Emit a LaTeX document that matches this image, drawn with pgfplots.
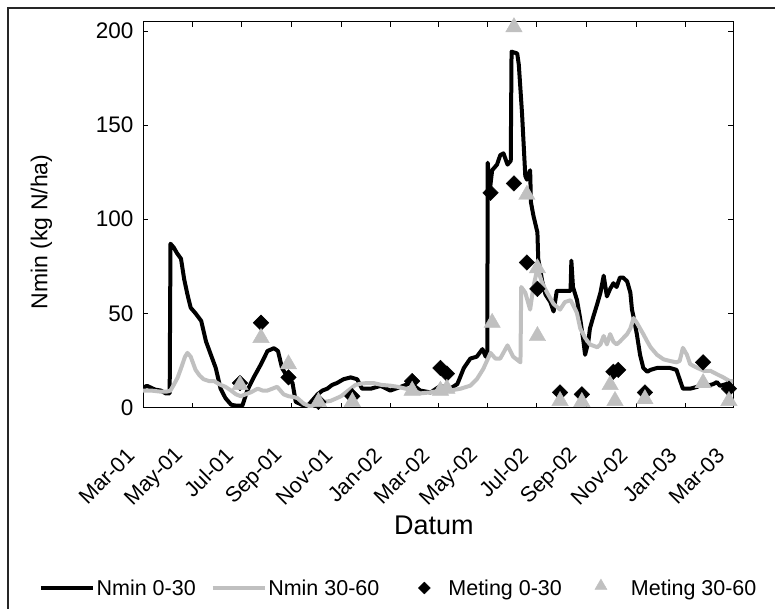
\documentclass[border=0pt]{standalone}
\usepackage{fontspec}
\setmainfont{Liberation Sans}
\usepackage{pgfplots}
\pgfplotsset{compat=1.18}
\definecolor{lgray}{RGB}{192,192,192}
\pgfplotsset{
  lineleg/.style={legend image code/.code={\draw[##1, line width=3.5pt] (0pt,0pt) -- (52pt,0pt);}},
  dmleg/.style={legend image code/.code={\path[draw=none,fill=none] (0pt,0pt) -- (52pt,0pt); \path[##1, draw=none, fill=none] plot[mark=square*, mark size=4.2pt, mark options={rotate=45, fill=black, draw=black}] coordinates {(30pt,0pt)};}},
  trleg/.style={legend image code/.code={\path[draw=none,fill=none] (0pt,0pt) -- (52pt,0pt); \path[##1, draw=none, fill=none] plot[mark=triangle*, mark size=7pt, mark options={fill=lgray, draw=lgray}] coordinates {(24pt,2pt)};}},
}
\begin{document}
\begin{tikzpicture}
\useasboundingbox (0pt,0pt) rectangle (775pt,-609pt);
\draw[line width=2pt, color=black!85] (8pt,-640pt) -- (8pt,-8.5pt) -- (800pt,-8.5pt);
\begin{axis}[
  at={(143pt,-407.5pt)}, anchor=south west,
  scale only axis, width=590pt, height=386pt,
  xmin=0, xmax=730, ymin=0, ymax=205,
  axis line style={line width=0.9pt},
  tick style={black, line width=0.7pt},
  tick align=inside, major tick length=5pt,
  xtick={0,61,122,184,245,306,365,426,487,549,610,671,730},
  xticklabels={Mar-01,May-01,Jul-01,Sep-01,Nov-01,Jan-02,Mar-02,May-02,Jul-02,Sep-02,Nov-02,Jan-03,Mar-03},
  xticklabel style={xshift=-10pt, yshift=-42pt, rotate=45, anchor=east, font=\fontsize{21.5}{21.5}\selectfont},
  ytick={0,50,100,150,200},
  yticklabel style={font=\fontsize{22.5}{22.5}\selectfont, xshift=-6pt},
  /pgf/number format/assume math mode=true,
  xlabel={Datum},
  xlabel style={at={(axis description cs:0.493,-0.305)}, anchor=center, font=\fontsize{27}{27}\selectfont},
  ylabel={Nmin (kg N/ha)},
  ylabel style={at={(axis description cs:-0.172,0.455)}, anchor=center, rotate=0, font=\fontsize{23}{23}\selectfont},
  legend style={at={(axis description cs:0.4335,-0.4676)}, anchor=center, draw=none, fill=none,
    legend columns=4, font=\fontsize{21.5}{21.5}\selectfont,
    nodes={inner sep=2pt},
    /tikz/every even column/.append style={column sep=13pt}},
  legend cell align=left,
]
\addplot[black, line width=4pt, line join=round, lineleg] coordinates {
(0,10.5)(5,11.5)(10,10.5)(15,9.5)(22,9)(28,7.5)(33,7.5)(34,87)(38,85)(42,82)(47,79)(51,68)(55,60)(59,53)(65,50)(72,46)(78,35)(84,28)(90,21)(96,10)(102,5)(109,1.5)(115,1)(123,1)(129,9)(137,16)(146,23)(154,30)(162,31.5)(167,30)(172,21)(179,16)(185,13)(189,3)(194,2)(199,1)(205,1.5)(210,4)(216,7)(222,9)(228,10)(234,12)(240,13)(248,15)(257,16)(265,15)(271,10)(282,10)(294,11.5)(306,9)(319,11)(331,13)(343,9)(356,8)(368,11.5)(380,10)(389,12.5)(397,21)(405,26)(413,27)(420,31)(424,27)(426,27)(426.5,130)(429,115)(432,126)(438,129)(442,134)(446,135)(451,129)(455,131)(456,189)(463,188)(465,182)(469,156)(473,123)(475,121)(479,126)(480,109)(483,102)(488,93)(489,79)(494,67)(498,60)(504,56)(508,51)(512,62)(520,62)(527,62)(529,62)(530,78)(532,64)(537,57)(541,47)(545,35)(547,28)(551,35)(553,42)(557,48)(562,55)(566,61)(570,70)(574,59)(578,63)(582,66)(586,64)(590,69)(594,69)(599,67)(603,61)(605,52)(607,48)(611,39)(615,28)(619,21)(624,19)(628,20)(636,21)(644,21)(652,21)(660,20)(664,15)(668,10)(677,10)(686,11)(690,12.5)(698,11.5)(706,12.5)(710,13.5)(714,11.5)(722,12.5)(726,14)(730,14)
};
\addlegendentry{Nmin 0-30}
\addplot[lgray, line width=4pt, line join=round, lineleg] coordinates {
(0,9)(10,9)(20,8.5)(30,8.5)(34,9)(38,12)(43,16)(48,22)(52,27)(55,29)(59,27)(65,20)(70,17)(75,15)(82,14)(88,14)(96,12)(102,11)(109,9)(115,7)(121,6)(127,7)(133,8)(142,10)(148,9)(154,9)(160,10)(166,11)(170,9)(174,7)(180,6)(187,5.5)(191,5)(199,2)(207,0.5)(216,2)(224,3)(232,3.5)(240,5)(245,6)(251,8)(257,10)(263,12)(269,12.6)(277,13)(285,13)(295,12)(306,11.6)(315,11)(325,10)(335,9)(343,7.5)(355,8)(368,9)(380,9)(393,10)(405,11.6)(413,15)(421,20.5)(430,29)(436,26)(442,26)(451,33)(458,27)(467,24)(468,64)(473,61)(479,52)(483,64)(488,74)(494,66)(500,61)(508,55)(516,52)(522,56)(529,57)(535,52)(537,50)(541,42)(547,37)(553,33.5)(562,32)(566,33.5)(570,38)(574,33.5)(578,39)(582,35)(586,33.5)(590,35)(599,39)(603,42)(607,47.5)(611,45)(615,42)(619,39)(624,35)(628,32)(636,28)(644,25.6)(652,24.7)(660,24)(664,24.7)(668,31.7)(673,28)(677,23)(686,21)(694,19.5)(702,19.5)(710,17.7)(718,16)(726,14)(730,14)
};
\addlegendentry{Nmin 30-60}
\addplot[only marks, mark=square*, mark size=5.5pt, mark options={rotate=45, fill=black, draw=black}, dmleg] coordinates {
(120,13)(146,45)(180,16)(217,3)(259,6)(333,14)(368,21)(376,18)(430,114)(459,119)(475,77)(488,63)(516,8)(543,7)(582,19)(588,20)(621,8)(693,24)(725,10)
};
\addlegendentry{Meting 0-30}
\addplot[only marks, mark=triangle*, mark size=9.5pt, mark options={fill=lgray, draw=lgray}, trleg] coordinates {
(120,12)(146,37)(180,23)(217,3)(259,3)(333,9)(368,9)(376,10)(432,45)(459,202)(475,113)(488,74)(488,38)(516,3.5)(543,3)(578,12)(584,3.5)(621,4.5)(693,13)(725,3.5)
};
\addlegendentry{Meting 30-60}
\end{axis}
\end{tikzpicture}
\end{document}
